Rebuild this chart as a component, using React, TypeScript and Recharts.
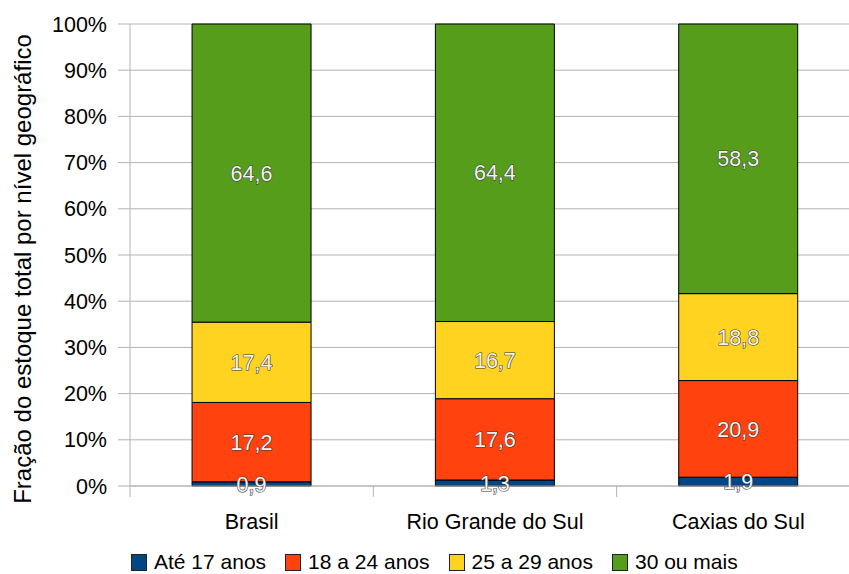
import React from 'react';
import { BarChart, Bar, XAxis, YAxis, CartesianGrid, Legend, LabelList, Label } from 'recharts';

const categories = ['Brasil', 'Rio Grande do Sul', 'Caxias do Sul'];
const ate17 = [0.9, 1.3, 1.9];
const de18a24 = [17.2, 17.6, 20.9];
const de25a29 = [17.4, 16.7, 18.8];
const mais30 = [64.6, 64.4, 58.3];
const yTicks = [0, 0.1, 0.2, 0.3, 0.4, 0.5, 0.6, 0.7, 0.8, 0.9, 1];

const series = [
  { key: 'ate17', name: 'Até 17 anos', color: '#004586' },
  { key: 'de18a24', name: '18 a 24 anos', color: '#ff420e' },
  { key: 'de25a29', name: '25 a 29 anos', color: '#ffd320' },
  { key: 'mais30', name: '30 ou mais', color: '#579d1c' },
];

const data = categories.map((name, i) => ({
  name,
  ate17: ate17[i],
  de18a24: de18a24[i],
  de25a29: de25a29[i],
  mais30: mais30[i],
}));

const FONT = '"Liberation Sans", Arial, sans-serif';
const FS = 21.5;
const W = 870;
const H = 574;
const M = { top: 24, right: 10, left: 0, bottom: 0 };
const Y_W = 130;
const BAND = (W - M.left - M.right - Y_W) / categories.length;
const AXIS_GRAY = '#b3b3b3';

const fmt = (v: any) => String(v).replace('.', ',');

function XTick(props: any) {
  const { x, y, payload, index } = props;
  const half = BAND / 2;
  return (
    <g>
      <line x1={x - half} x2={x - half} y1={y} y2={y + 11} stroke={AXIS_GRAY} />
      {index === categories.length - 1 && (
        <line x1={x + half} x2={x + half} y1={y} y2={y + 11} stroke={AXIS_GRAY} />
      )}
      <text x={x} y={y + 43} textAnchor="middle" fontSize={FS} fontFamily={FONT} fill="#000">
        {payload.value}
      </text>
    </g>
  );
}

function LegendContent() {
  return (
    <div style={{ display: 'flex', alignItems: 'center', paddingTop: 14, fontFamily: FONT, fontSize: 21, color: '#000', whiteSpace: 'nowrap' }}>
      {series.map((s) => (
        <div key={s.key} style={{ display: 'flex', alignItems: 'center', marginRight: 19 }}>
          <span style={{ width: 14, height: 15, background: s.color, border: '1px solid #222', marginRight: 7, display: 'inline-block' }} />
          <span>{s.name}</span>
        </div>
      ))}
    </div>
  );
}

export default function App() {
  return (
    <div style={{ position: 'absolute', left: 0, top: 0, width: 849, height: 574, overflow: 'hidden', background: '#fff' }}>
      <BarChart width={W} height={H} data={data} margin={M} stackOffset="expand" barCategoryGap="25.5%">
        <CartesianGrid vertical={false} stroke={AXIS_GRAY} />
        <XAxis dataKey="name" height={50} tickSize={0} tickMargin={0} tickLine={false} axisLine={{ stroke: AXIS_GRAY }} tick={<XTick />} interval={0} />
        <YAxis
          width={Y_W}
          domain={[0, 1]}
          ticks={yTicks}
          tickFormatter={(v: number) => `${Math.round(v * 100)}%`}
          tickSize={12}
          tickMargin={11}
          tickLine={{ stroke: AXIS_GRAY }}
          axisLine={{ stroke: AXIS_GRAY }}
          tick={{ fill: '#000', fontSize: FS, fontFamily: FONT }}
        >
          <Label
            content={(p: any) => {
              const vb = p.viewBox || { y: 24, height: 462 };
              const cy = vb.y + vb.height / 2 + 14;
              return (
                <text x={22} y={cy} transform={`rotate(-90 22 ${cy})`} textAnchor="middle" dominantBaseline="central" fontSize={24} fontFamily={FONT} fill="#000">
                  Fração do estoque total por nível geográfico
                </text>
              );
            }}
          />
        </YAxis>
        <Legend verticalAlign="bottom" content={<LegendContent />} wrapperStyle={{ position: 'absolute', left: 131, top: 536, width: 'auto', height: 38 }} />
        {series.map((s) => (
          <Bar key={s.key} dataKey={s.key} name={s.name} stackId="a" fill={s.color} stroke="#000" strokeWidth={1} isAnimationActive={false}>
            <LabelList
              dataKey={s.key}
              position="center"
              formatter={fmt}
              style={{ fontSize: FS, fontFamily: FONT, fill: '#f2f2f2', stroke: '#3a3a3a', strokeWidth: 1.1, paintOrder: 'stroke' }}
            />
          </Bar>
        ))}
      </BarChart>
    </div>
  );
}
